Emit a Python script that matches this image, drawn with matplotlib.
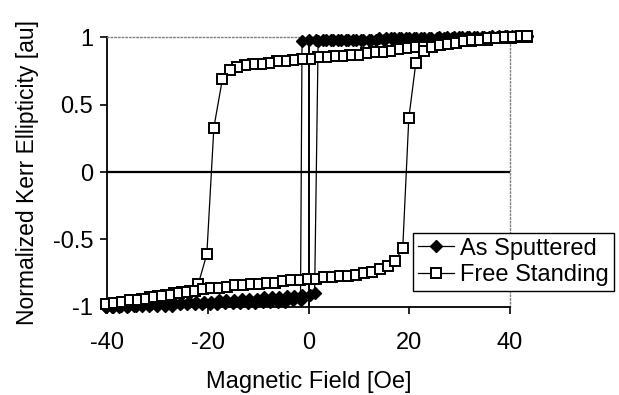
import matplotlib
matplotlib.use('Agg')
from matplotlib import pyplot as plt

plt.rcParams['font.family'] = ['Liberation Sans', 'DejaVu Sans']
plt.rcParams['axes.unicode_minus'] = False

# As Sputtered: field sweep down (+43 -> -40), then back up (-40 -> +43)
as_x_down = [43.4, 41.9, 40.4, 38.9, 37.4, 35.9, 34.4, 32.9, 31.4, 29.9, 28.4, 26.9, 25.4, 23.9,
             22.4, 20.9, 19.4, 17.9, 16.4, 14.9, 13.4, 11.9, 10.4, 8.9, 7.4, 5.9, 4.4, 2.9, 1.4, 0.0,
             -1.3, -1.6, -3.1, -4.6, -6.1, -7.6, -9.1, -10.6, -12.1, -13.6, -15.1, -16.6, -18.1,
             -19.6, -21.1, -22.6, -24.1, -25.6, -27.1, -28.6, -30.1, -31.6, -33.1, -34.6, -36.1,
             -37.6, -39.1, -40.3]
as_y_down = [1.01, 1.01, 1.01, 1.01, 1.00, 1.00, 1.00, 1.00, 1.00, 1.00, 0.99, 0.99, 0.99, 0.99,
             0.99, 0.99, 0.99, 0.99, 0.99, 0.98, 0.98, 0.98, 0.98, 0.98, 0.98, 0.98, 0.98, 0.98, 0.98, 0.98,
             0.97, -0.95, -0.95, -0.96, -0.96, -0.96, -0.96, -0.97, -0.97, -0.97, -0.97, -0.97, -0.98,
             -0.98, -0.98, -0.98, -0.98, -0.98, -0.99, -0.99, -0.99, -0.99, -0.99, -0.99, -1.00,
             -1.00, -1.00, -1.00]
as_x_up = [-40.3, -38.8, -37.3, -35.8, -34.3, -32.8, -31.3, -29.8, -28.3, -26.8, -25.3, -23.8,
           -22.3, -20.8, -19.3, -17.8, -16.3, -14.8, -13.3, -11.8, -10.3, -8.8, -7.3, -5.8, -4.3,
           -2.8, -1.3, 0.2, 1.2, 1.9, 3.4, 4.9, 6.4, 7.9, 9.4, 10.9, 12.4, 13.9, 15.4, 16.9, 18.4,
           19.9, 21.4, 22.9, 24.4, 25.9, 27.4, 28.9, 30.4, 31.9, 33.4, 34.9, 36.4, 37.9, 39.4, 40.9,
           42.4, 43.4]
as_y_up = [-1.00, -1.00, -0.99, -0.99, -0.99, -0.98, -0.98, -0.98, -0.97, -0.97, -0.97, -0.96,
           -0.96, -0.96, -0.96, -0.95, -0.95, -0.95, -0.94, -0.94, -0.94, -0.93, -0.93, -0.93, -0.92,
           -0.92, -0.91, -0.91, -0.90, 0.97, 0.98, 0.98, 0.98, 0.98, 0.98, 0.98, 0.98, 0.99, 0.99,
           0.99, 0.99, 0.99, 0.99, 0.99, 0.99, 1.00, 1.00, 1.00, 1.00, 1.00, 1.00, 1.00, 1.01, 1.01,
           1.01, 1.01, 1.01, 1.01]

# Free Standing
fs_x_down = [43.4, 41.8, 40.2, 38.6, 37.0, 35.4, 33.8, 32.2, 30.6, 29.0, 27.4, 25.8, 24.2, 22.6,
             21.0, 19.4, 17.8, 16.2, 14.6, 13.0, 11.4, 9.8, 8.2, 6.6, 5.0, 3.4, 1.8, 0.2, -1.4, -3.0,
             -4.6, -6.2, -7.8, -9.4, -11.0, -12.6, -14.2, -15.6, -17.1, -18.8, -20.2, -21.9, -23.5,
             -25.1, -26.7, -28.3, -29.9, -31.5, -33.1, -34.7, -36.3, -37.9, -39.5]
fs_y_down = [1.00, 1.00, 0.99, 0.99, 0.99, 0.98, 0.98, 0.97, 0.97, 0.96, 0.95, 0.95, 0.94, 0.93,
             0.93, 0.92, 0.91, 0.90, 0.89, 0.89, 0.88, 0.87, 0.87, 0.86, 0.86, 0.85, 0.85, 0.84, 0.84, 0.83,
             0.82, 0.82, 0.81, 0.80, 0.80, 0.79, 0.78, 0.76, 0.69, 0.33, -0.61, -0.83, -0.88,
             -0.89, -0.90, -0.91, -0.92, -0.93, -0.94, -0.95, -0.96, -0.97, -0.98]
fs_x_up = [-40.2, -38.6, -37.0, -35.4, -33.8, -32.2, -30.6, -29.0, -27.4, -25.8, -24.2, -22.6,
           -21.0, -19.4, -17.8, -16.2, -14.6, -13.0, -11.4, -9.8, -8.2, -6.6, -5.0, -3.4, -1.8, -0.2,
           1.4, 3.0, 4.6, 6.2, 7.8, 9.4, 11.0, 12.6, 14.2, 15.8, 17.2, 18.7, 19.9, 21.3, 22.9, 24.5,
           26.1, 27.7, 29.3, 30.9, 32.5, 34.1, 35.7, 37.3, 38.9, 40.5, 42.1, 43.4]
fs_y_up = [-0.98, -0.97, -0.96, -0.95, -0.95, -0.94, -0.93, -0.92, -0.91, -0.90, -0.89, -0.88,
           -0.87, -0.86, -0.86, -0.85, -0.84, -0.84, -0.83, -0.83, -0.82, -0.82, -0.81, -0.80, -0.80, -0.79,
           -0.79, -0.78, -0.78, -0.77, -0.77, -0.76, -0.75, -0.74, -0.72, -0.70, -0.66, -0.56, 0.40, 0.81,
           0.90, 0.93, 0.94, 0.95, 0.96, 0.97, 0.98, 0.98, 0.99, 0.99, 1.00, 1.00, 1.01, 1.01]

x_ticks = [-40, -20, 0, 20, 40]
y_ticks = [-1, -0.5, 0, 0.5, 1]
y_tick_labels = ['-1', '-0.5', '0', '0.5', '1']


def main():
    fig = plt.figure(figsize=(6.19, 3.95), dpi=100)
    ax = fig.add_axes([0.173, 0.223, 0.651, 0.683])

    ax.axhline(0, color='black', lw=1.6, zorder=1)
    ax.axvline(0, color='black', lw=1.4, zorder=1)

    ax.plot(as_x_down + as_x_up, as_y_down + as_y_up, color='black', lw=0.9,
            marker='D', markersize=6.5, markerfacecolor='black', markeredgecolor='black',
            clip_on=False, zorder=3, label='As Sputtered')
    ax.plot(fs_x_down + fs_x_up, fs_y_down + fs_y_up, color='black', lw=0.9,
            marker='s', markersize=7, markerfacecolor='white', markeredgecolor='black',
            markeredgewidth=1.4, clip_on=False, zorder=4, label='Free Standing')

    ax.set_xlim(-40, 40)
    ax.set_ylim(-1, 1)
    ax.set_xticks(x_ticks)
    ax.set_yticks(y_ticks)
    ax.set_yticklabels(y_tick_labels)
    ax.tick_params(direction='out', length=5, width=1.2, labelsize=17, colors='black')
    ax.tick_params(axis='x', pad=13)
    ax.tick_params(axis='y', pad=5)

    for side in ['left', 'bottom']:
        ax.spines[side].set_linewidth(1.3)
    for side in ['top', 'right']:
        ax.spines[side].set_linestyle(':')
        ax.spines[side].set_color('gray')
        ax.spines[side].set_linewidth(1.0)

    ax.set_xlabel('Magnetic Field [Oe]', fontsize=17, labelpad=12)
    ax.set_ylabel('Normalized Kerr Ellipticity [au]', fontsize=16.5, labelpad=10)

    leg = fig.legend(loc='center', bbox_to_anchor=(0.8296, 0.3367), fontsize=17,
                     frameon=True, fancybox=False, handlelength=1.55, handletextpad=0.25,
                     borderpad=0.2, labelspacing=0.2, numpoints=1, borderaxespad=0)
    leg.get_frame().set_edgecolor('black')
    leg.get_frame().set_linewidth(1.0)
    leg.get_frame().set_alpha(1)

    fig.savefig('out.png', dpi=100)


if __name__ == '__main__':
    main()
